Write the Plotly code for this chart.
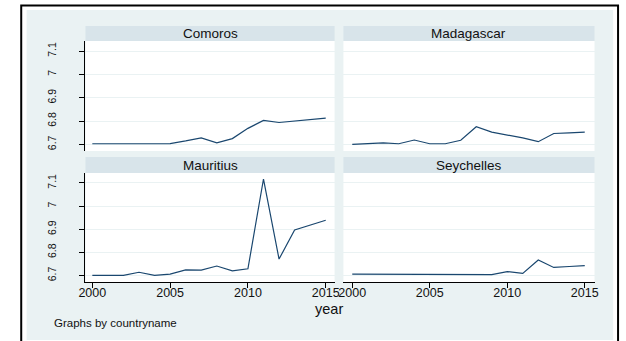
import plotly.graph_objects as go

W, H = 626, 341

years = list(range(2000, 2016))
countries = ["Comoros", "Madagascar", "Mauritius", "Seychelles"]
comoros = [6.703, 6.703, 6.703, 6.704, 6.706, 6.704, 6.715, 6.728,
           6.707, 6.725, 6.769, 6.803, 6.794, 6.800, 6.806, 6.813]
madagascar = [6.700, 6.703, 6.707, 6.703, 6.719, 6.703, 6.703, 6.718,
              6.776, 6.753, 6.741, 6.728, 6.712, 6.747, 6.750, 6.753]
mauritius = [6.701, 6.701, 6.701, 6.714, 6.701, 6.706, 6.724, 6.723,
             6.741, 6.720, 6.729, 7.117, 6.771, 6.897, 6.917, 6.939]
seychelles = [6.706, 6.706, 6.706, 6.703, 6.703, 6.704, 6.704, 6.704,
              6.704, 6.704, 6.717, 6.709, 6.767, 6.735, 6.739, 6.743]
series = [comoros, madagascar, mauritius, seychelles]
y_ticks = [6.7, 6.8, 6.9, 7.0, 7.1]
y_tick_text = ["6.7", "6.8", "6.9", "7", "7.1"]
x_ticks = [2000, 2005, 2010, 2015]

FONT = "Liberation Sans, Arial, sans-serif"
LINE = "#1a476f"
REGION = "#eaf2f3"
STRIP = "#d8e4ea"
GRID = "#eaf2f3"


def px(x):
    return x / W


def py(y):
    return 1 - y / H


# panel geometry in pixels: (left, right, top, bottom)
cols = [(80, 334), (343, 599)]
rows = [(41, 151), (173, 282)]
strips = [(26, 41), (157, 173)]
x_ranges = [[1999.56, 2015.57], [1999.43, 2015.63]]
y_range = [6.672, 7.143]

fig = go.Figure()
shapes = [
    dict(type="rect", xref="paper", yref="paper", x0=px(14.5), x1=px(623),
         y0=py(5.5), y1=py(360), line=dict(color="black", width=2),
         fillcolor="white", layer="below"),
    dict(type="rect", xref="paper", yref="paper", x0=px(20), x1=px(618),
         y0=py(10), y1=py(340), line=dict(width=0), fillcolor=REGION,
         layer="below"),
]
annotations = []
layout_axes = {}

for i, (name, vals) in enumerate(zip(countries, series)):
    r, c = divmod(i, 2)
    n = i + 1
    xl, xr = cols[c]
    yt, yb = rows[r]
    st, sb = strips[r]
    xa = "x" if n == 1 else f"x{n}"
    ya = "y" if n == 1 else f"y{n}"
    fig.add_trace(go.Scatter(x=years, y=vals, mode="lines", xaxis=xa, yaxis=ya,
                             line=dict(color=LINE, width=1.2),
                             showlegend=False, hoverinfo="x+y"))
    # white plot region and title band
    shapes.append(dict(type="rect", xref="paper", yref="paper", x0=px(xl),
                       x1=px(xr), y0=py(yb), y1=py(yt), line=dict(width=0),
                       fillcolor="white", layer="below"))
    shapes.append(dict(type="rect", xref="paper", yref="paper", x0=px(xl),
                       x1=px(xr), y0=py(sb), y1=py(st), line=dict(width=0),
                       fillcolor=STRIP, layer="below"))
    annotations.append(dict(text=name, xref="paper", yref="paper",
                            x=px((xl + xr) / 2), y=py((st + sb) / 2),
                            xanchor="center", yanchor="middle", showarrow=False,
                            font=dict(family=FONT, size=13.5, color="#111")))
    bottom = r == 1
    left = c == 0
    layout_axes["xaxis" if n == 1 else f"xaxis{n}"] = dict(
        domain=[px(xl), px(xr)], range=x_ranges[c], anchor=ya,
        showgrid=False, zeroline=False,
        showline=bottom, linecolor="black", linewidth=1,
        ticks="outside" if bottom else "", ticklen=5, tickcolor="black",
        tickvals=x_ticks, showticklabels=bottom, ticklabelstandoff=-6,
        tickfont=dict(family=FONT, size=12.5, color="#111"),
    )
    layout_axes["yaxis" if n == 1 else f"yaxis{n}"] = dict(
        domain=[py(yb), py(yt)], range=y_range, anchor=xa,
        showgrid=True, gridcolor=GRID, gridwidth=1, zeroline=False,
        showline=left, linecolor="black", linewidth=1,
        ticks="outside" if left else "", ticklen=5, tickcolor="black",
        tickvals=y_ticks, ticktext=y_tick_text, showticklabels=left,
        tickangle=-90, ticklabelstandoff=19,
        tickfont=dict(family=FONT, size=10.5, color="#111"),
    )

annotations.append(dict(text="year", xref="paper", yref="paper", x=px(328),
                        y=py(309), xanchor="center", yanchor="middle",
                        showarrow=False,
                        font=dict(family=FONT, size=14.5, color="#111")))
annotations.append(dict(text="Graphs by countryname", xref="paper",
                        yref="paper", x=px(46), y=py(323), xanchor="left",
                        yanchor="middle", showarrow=False,
                        font=dict(family=FONT, size=11.5, color="#111")))

fig.update_layout(
    width=W, height=H, margin=dict(l=0, r=0, t=0, b=0),
    paper_bgcolor="white", plot_bgcolor="rgba(0,0,0,0)",
    shapes=shapes, annotations=annotations, **layout_axes,
)

fig.write_html("out.html")
